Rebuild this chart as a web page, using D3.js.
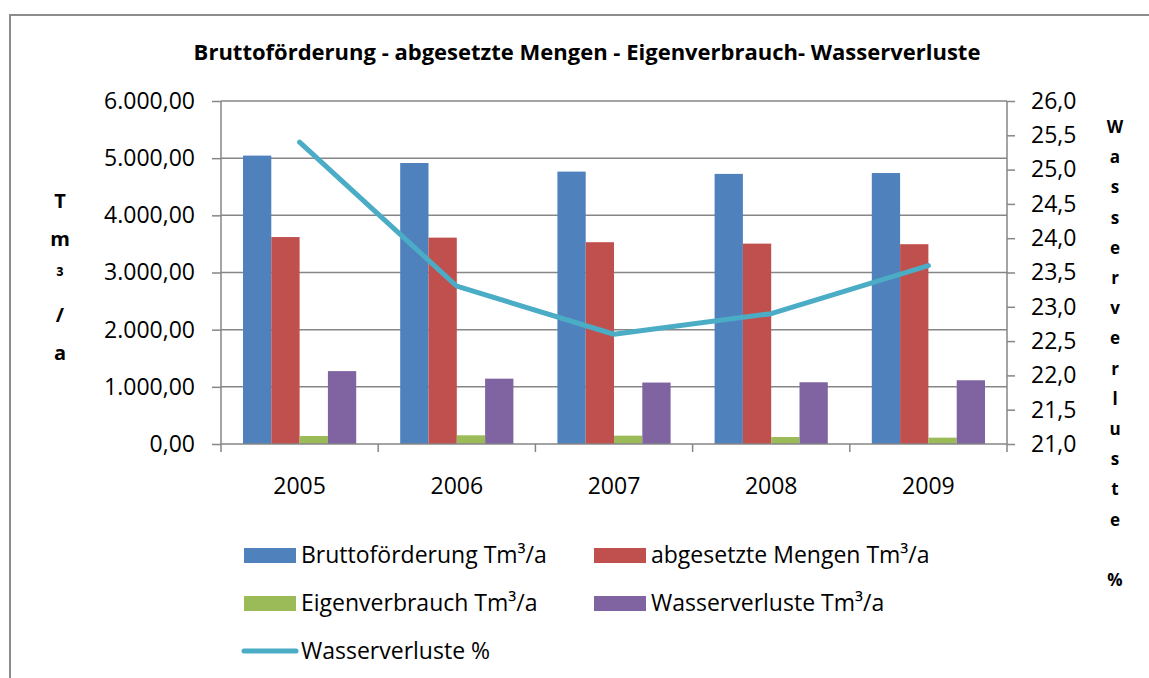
<!DOCTYPE html>
<html>
<head>
  <meta charset="utf-8">
  <title>Bruttoförderung - abgesetzte Mengen - Eigenverbrauch- Wasserverluste</title>
  <script src="https://d3js.org/d3.v7.min.js"></script>
  <style>
    body { margin: 0; background: #fff; font-family: 'Open Sans', sans-serif; }
    svg { display: block; }
  </style>
</head>
<body>
<svg width="1149" height="678"></svg>
<script>
// data (Tm³/a and %)
var years = ["2005", "2006", "2007", "2008", "2009"];
var brutto = [5045, 4915, 4765, 4725, 4740];
var abgesetzt = [3620, 3610, 3530, 3505, 3495];
var eigen = [140, 152, 146, 122, 111];
var verlusteTm = [1275, 1143, 1075, 1080, 1115];
var verlustePct = [25.4, 23.3, 22.6, 22.9, 23.6];

var leftTicks = [0, 1000, 2000, 3000, 4000, 5000, 6000];
var rightTicks = [21, 21.5, 22, 22.5, 23, 23.5, 24, 24.5, 25, 25.5, 26];

var seriesNames = ["Bruttoförderung Tm³/a", "abgesetzte Mengen Tm³/a", "Eigenverbrauch Tm³/a", "Wasserverluste Tm³/a"];
var seriesValues = [brutto, abgesetzt, eigen, verlusteTm];
var seriesColors = ["#4F81BD", "#C0504D", "#9BBB59", "#8064A2"];
var lineName = "Wasserverluste %";
var lineColor = "#4BACC6";

var svg = d3.select("svg");
var de = d3.formatLocale({decimal: ",", thousands: ".", grouping: [3], currency: ["", " €"]});
var fmtLeft = de.format(",.2f");
var fmtRight = de.format(".1f");

var plotLeft = 221, plotRight = 1007, plotTop = 101, plotBottom = 444;
var gridColor = "#868686";

// outer frame (only top and left visible)
svg.append("path")
  .attr("d", "M10,678 L10,15 L1149,15")
  .attr("fill", "none")
  .attr("stroke", "#8c8c8c")
  .attr("stroke-width", 2);

svg.append("text")
  .attr("x", 587)
  .attr("y", 60)
  .attr("text-anchor", "middle")
  .attr("font-size", "22px")
  .attr("font-weight", "bold")
  .text("Bruttoförderung - abgesetzte Mengen - Eigenverbrauch- Wasserverluste");

var x = d3.scaleBand().domain(years).range([plotLeft, plotRight]).padding(0);
var inner = d3.scaleBand().domain(seriesNames).range([22, x.bandwidth() - 22]).padding(0);
var y = d3.scaleLinear().domain([0, 6000]).range([plotBottom, plotTop]);
var y2 = d3.scaleLinear().domain([21, 26]).range([plotBottom, plotTop]);

// gridlines
svg.append("g")
  .selectAll("line")
  .data(leftTicks.slice(1))
  .join("line")
  .attr("x1", plotLeft).attr("x2", plotRight)
  .attr("y1", function(d){ return y(d); })
  .attr("y2", function(d){ return y(d); })
  .attr("stroke", gridColor)
  .attr("stroke-width", 1.5);

// bars
seriesNames.forEach(function(name, s) {
  svg.append("g")
    .selectAll("rect")
    .data(seriesValues[s])
    .join("rect")
    .attr("x", function(d, i){ return x(years[i]) + inner(name); })
    .attr("y", function(d){ return y(d); })
    .attr("width", inner.bandwidth())
    .attr("height", function(d){ return plotBottom - y(d); })
    .attr("fill", seriesColors[s]);
});

// left axis
var gl = svg.append("g")
  .attr("transform", "translate(" + plotLeft + ",0)")
  .call(d3.axisLeft(y).tickValues(leftTicks).tickSize(9).tickPadding(17).tickFormat(fmtLeft));

// right axis
var gr = svg.append("g")
  .attr("transform", "translate(" + plotRight + ",0)")
  .call(d3.axisRight(y2).tickValues(rightTicks).tickSize(8).tickPadding(16).tickFormat(fmtRight));

// bottom axis: labels centred, ticks on category borders
var gb = svg.append("g")
  .attr("transform", "translate(0," + plotBottom + ")")
  .call(d3.axisBottom(x).tickSize(0).tickPadding(34));
var lastEdge = x(years[years.length - 1]) + x.bandwidth();
gb.append("g")
  .selectAll("line")
  .data(years.map(function(d){ return x(d); }).concat([lastEdge]))
  .join("line")
  .attr("x1", function(d){ return d; })
  .attr("x2", function(d){ return d; })
  .attr("y1", 0).attr("y2", 8)
  .attr("stroke", gridColor)
  .attr("stroke-width", 1.5);

[gl, gr, gb].forEach(function(g) {
  g.select(".domain").attr("stroke", gridColor).attr("stroke-width", 1.5);
  g.selectAll(".tick line").attr("stroke", gridColor).attr("stroke-width", 1.5);
  g.selectAll(".tick text")
    .attr("fill", "#000")
    .attr("font-family", "'Open Sans', sans-serif")
    .attr("font-size", "23px");
});
gb.select(".domain").attr("d", "M" + plotLeft + ",0H" + plotRight);
gl.select(".domain").attr("d", "M0," + plotTop + "V" + plotBottom);
gr.select(".domain").attr("d", "M0," + plotTop + "V" + plotBottom);

// line series
var line = d3.line()
  .x(function(d, i){ return x(years[i]) + x.bandwidth() / 2; })
  .y(function(d){ return y2(d); });

svg.append("path")
  .datum(verlustePct)
  .attr("d", line)
  .attr("fill", "none")
  .attr("stroke", lineColor)
  .attr("stroke-width", 5)
  .attr("stroke-linejoin", "round")
  .attr("stroke-linecap", "round");

// axis titles, letters stacked
var leftTitle = ["T", "m", "³", "/", "a"];
svg.append("g")
  .selectAll("text")
  .data(leftTitle)
  .join("text")
  .attr("x", 60)
  .attr("y", function(d, i){ return 208 + i * 38; })
  .attr("text-anchor", "middle")
  .attr("font-size", "20px")
  .attr("font-weight", "bold")
  .text(function(d){ return d; });

var rightTitle = "Wasserverluste %".split("");
svg.append("g")
  .selectAll("text")
  .data(rightTitle)
  .join("text")
  .attr("x", 1115)
  .attr("y", function(d, i){ return 133 + i * 30.2; })
  .attr("text-anchor", "middle")
  .attr("font-size", "17px")
  .attr("font-weight", "bold")
  .text(function(d){ return d; });

// legend
var legendItems = [
  {name: seriesNames[0], color: seriesColors[0], x: 244, y: 548, type: "rect"},
  {name: seriesNames[1], color: seriesColors[1], x: 594, y: 548, type: "rect"},
  {name: seriesNames[2], color: seriesColors[2], x: 244, y: 596, type: "rect"},
  {name: seriesNames[3], color: seriesColors[3], x: 594, y: 596, type: "rect"},
  {name: lineName, color: lineColor, x: 244, y: 644, type: "line"}
];
var lg = svg.append("g").selectAll("g").data(legendItems).join("g")
  .attr("transform", function(d){ return "translate(" + d.x + "," + d.y + ")"; });
lg.filter(function(d){ return d.type === "rect"; })
  .append("rect")
  .attr("width", 52).attr("height", 15)
  .attr("fill", function(d){ return d.color; });
lg.filter(function(d){ return d.type === "line"; })
  .append("line")
  .attr("x1", 0).attr("x2", 52).attr("y1", 7).attr("y2", 7)
  .attr("stroke", function(d){ return d.color; })
  .attr("stroke-width", 5)
  .attr("stroke-linecap", "round");
lg.append("text")
  .attr("x", 57)
  .attr("y", 15)
  .attr("font-size", "23px")
  .text(function(d){ return d.name; });
</script>
</body>
</html>
